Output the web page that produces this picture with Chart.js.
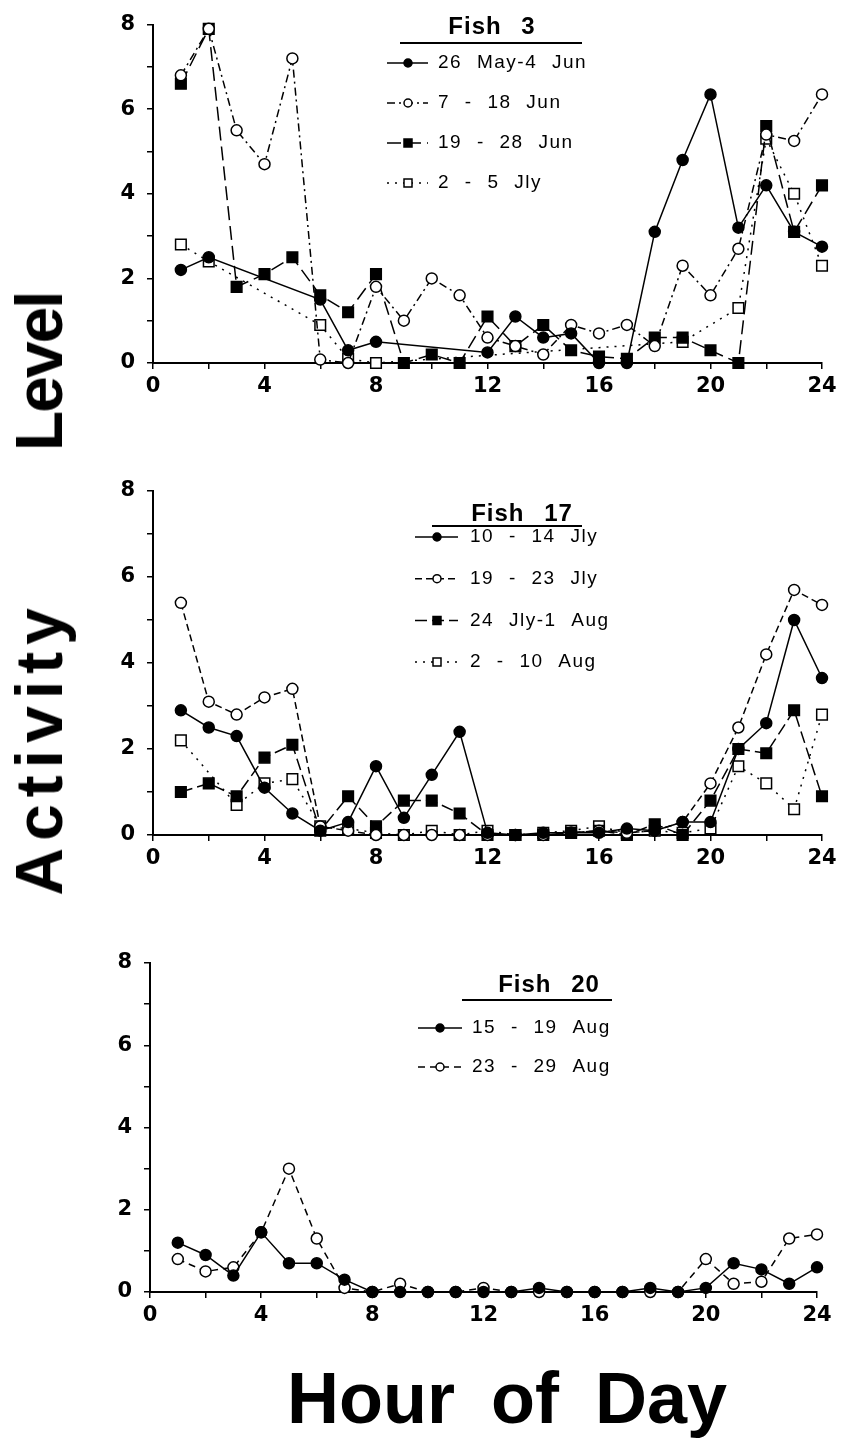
<!DOCTYPE html>
<html lang="en">
<head>
<meta charset="UTF-8">
<title>Fish activity level by hour of day</title>
<script src="https://cdn.jsdelivr.net/npm/chart.js"></script>
<style>
  body {
    margin: 0;
    background: #fff;
    width: 844px;
    height: 1440px;
    position: relative;
    overflow: hidden;
    font-family: "Liberation Sans", Arial, sans-serif;
    color: #000;
  }
  canvas { position: absolute; left: 0; }
  #fish3 { top: 0; }
  #fish17 { top: 440px; }
  #fish20 { top: 930px; }
  .ytitle {
    position: absolute;
    left: 39px;
    top: 594px;
    transform: translate(-50%, -50%) rotate(-90deg);
    white-space: nowrap;
    font-weight: bold;
    font-size: 66px;
    line-height: 66px;
  }
  .ytitle .w1 { letter-spacing: 7px; margin-right: 150px; }
  .ytitle .w2 { letter-spacing: -2px; }
  .xtitle {
    position: absolute;
    left: 287px;
    top: 1362px;
    white-space: nowrap;
    font-weight: bold;
    font-size: 72px;
    line-height: 72px;
    word-spacing: 16px;
  }
</style>
</head>
<body>
<canvas id="fish3" width="844" height="403" style="width:844px;height:403px"></canvas>
<canvas id="fish17" width="844" height="435" style="width:844px;height:435px"></canvas>
<canvas id="fish20" width="844" height="402" style="width:844px;height:402px"></canvas>
<div class="ytitle"><span class="w1">Activity</span><span class="w2">Level</span></div>
<div class="xtitle">Hour of Day</div>

<script>
// hour of day for every sample
const hours = [1, 2, 3, 4, 5, 6, 7, 8, 9, 10, 11, 12, 13, 14, 15, 16, 17, 18, 19, 20, 21, 22, 23, 24];

// Fish 3
const fish3Labels = ['26 May-4 Jun', '7 - 18 Jun', '19 - 28 Jun', '2 - 5 Jly'];
const fish3May26 = [2.2, 2.5, null, null, null, 1.5, 0.3, 0.5, null, null, null, 0.25, 1.1, 0.6, 0.7, 0, 0, 3.1, 4.8, 6.35, 3.2, 4.2, 3.1, 2.75];
const fish3Jun7 = [6.8, 7.9, 5.5, 4.7, 7.2, 0.08, 0, 1.8, 1.0, 2.0, 1.6, 0.6, 0.4, 0.2, 0.9, 0.7, 0.9, 0.4, 2.3, 1.6, 2.7, 5.4, 5.25, 6.35];
const fish3Jun19 = [6.6, 7.9, 1.8, 2.1, 2.5, 1.6, 1.2, 2.1, 0, 0.2, 0, 1.1, 0.4, 0.9, 0.3, 0.15, 0.1, 0.6, 0.6, 0.3, 0, 5.6, 3.1, 4.2];
const fish3Jly2 = [2.8, 2.4, null, null, null, 0.9, 0.1, 0, null, null, null, null, null, null, null, null, null, null, 0.5, null, 1.3, 5.3, 4.0, 2.3];

// Fish 17
const fish17Labels = ['10 - 14 Jly', '19 - 23 Jly', '24 Jly-1 Aug', '2 - 10 Aug'];
const fish17Jly10 = [2.9, 2.5, 2.3, 1.1, 0.5, 0.1, 0.3, 1.6, 0.4, 1.4, 2.4, 0.05, 0, 0.05, 0.05, 0.05, 0.15, 0.1, 0.3, 0.3, 2.0, 2.6, 5.0, 3.65];
const fish17Jly19 = [5.4, 3.1, 2.8, 3.2, 3.4, 0.2, 0.1, 0, 0, 0, 0, 0, 0, 0, 0.05, 0.1, 0.05, 0.1, 0.3, 1.2, 2.5, 4.2, 5.7, 5.35];
const fish17Jly24 = [1.0, 1.2, 0.9, 1.8, 2.1, 0.1, 0.9, 0.2, 0.8, 0.8, 0.5, 0, 0, 0, 0.05, 0.1, 0, 0.25, 0, 0.8, 2.0, 1.9, 2.9, 0.9];
const fish17Aug2 = [2.2, null, 0.7, 1.2, 1.3, 0.2, 0.15, 0.05, 0, 0.1, 0, 0.1, 0, 0.05, 0.1, 0.2, 0.05, 0.1, 0.05, 0.15, 1.6, 1.2, 0.6, 2.8];

// Fish 20
const fish20Labels = ['15 - 19 Aug', '23 - 29 Aug'];
const fish20Aug15 = [1.2, 0.9, 0.4, 1.45, 0.7, 0.7, 0.3, 0, 0, 0, 0, 0, 0, 0.1, 0, 0, 0, 0.1, 0, 0.1, 0.7, 0.55, 0.2, 0.6];
const fish20Aug23 = [0.8, 0.5, 0.6, 1.45, 3.0, 1.3, 0.1, 0, 0.2, 0, 0, 0.1, 0, 0, 0, 0, 0, 0, 0, 0.8, 0.2, 0.25, 1.3, 1.4];

const xTicks = [0, 4, 8, 12, 16, 20, 24];
const yTicks = [0, 2, 4, 6, 8];

// marker / line styles
const filledCircle = { pointStyle: 'circle', pointRadius: 5.5, pointBackgroundColor: '#000' };
const openCircle = { pointStyle: 'circle', pointRadius: 5.5, pointBackgroundColor: '#fff' };
const filledSquare = { pointStyle: 'rect', pointRadius: 7.5, pointBackgroundColor: '#000' };
const openSquare = { pointStyle: 'rect', pointRadius: 7.5, pointBackgroundColor: '#fff' };

function series(label, values, marker, dash) {
    return Object.assign({
        label: label,
        data: hours.map((h, i) => ({ x: h, y: values[i] })),
        borderColor: '#000',
        borderWidth: 1.5,
        borderDash: dash,
        pointBorderColor: '#000',
        pointBorderWidth: 1.5,
        pointHoverRadius: 6,
        spanGaps: true,
        tension: 0,
        clip: false
    }, marker);
}

// legend drawn inside the plot, with line sample + marker like the original
const fishLegend = {
    id: 'fishLegend',
    afterDatasetsDraw(chart, args, o) {
        const ctx = chart.ctx;
        ctx.save();
        ctx.fillStyle = '#000';
        ctx.strokeStyle = '#000';
        ctx.textBaseline = 'middle';

        ctx.font = 'bold 24px "Liberation Sans", Arial, sans-serif';
        ctx.textAlign = 'center';
        ctx.letterSpacing = '1px';
        ctx.wordSpacing = '12px';
        ctx.fillText(o.title, o.titleX, o.titleY);

        ctx.lineWidth = 2;
        ctx.beginPath();
        ctx.moveTo(o.ruleX0, o.ruleY);
        ctx.lineTo(o.ruleX1, o.ruleY);
        ctx.stroke();

        ctx.font = '19px "Liberation Sans", Arial, sans-serif';
        ctx.textAlign = 'left';
        ctx.letterSpacing = '1.5px';
        ctx.wordSpacing = '8px';
        chart.data.datasets.forEach((ds, i) => {
            const y = o.rowY + i * o.rowGap;
            ctx.lineWidth = 1.5;
            ctx.setLineDash(ds.borderDash || []);
            ctx.beginPath();
            ctx.moveTo(o.sampleX0, y);
            ctx.lineTo(o.sampleX1, y);
            ctx.stroke();
            ctx.setLineDash([]);

            ctx.beginPath();
            if (ds.pointStyle === 'rect') {
                ctx.rect(o.markX - 4, y - 4, 8, 8);
            } else {
                ctx.arc(o.markX, y, 4, 0, Math.PI * 2);
            }
            ctx.fillStyle = ds.pointBackgroundColor;
            ctx.fill();
            ctx.stroke();
            ctx.fillStyle = '#000';
            ctx.fillText(ds.label, o.textX, y);
        });
        ctx.restore();
    }
};

function makeChart(id, datasets, box, legend) {
    const tickFont = { family: '"DejaVu Sans", Arial, sans-serif', weight: 'bold', size: 21 };
    return new Chart(document.getElementById(id), {
        type: 'line',
        data: { datasets: datasets },
        plugins: [fishLegend],
        options: {
            responsive: false,
            animation: false,
            events: [],
            layout: { padding: { top: box.top, right: box.right, bottom: 0, left: 0 } },
            scales: {
                x: {
                    type: 'linear',
                    min: 0,
                    max: 24,
                    ticks: {
                        stepSize: 2,
                        autoSkip: false,
                        maxRotation: 0,
                        color: '#000',
                        padding: 5,
                        font: tickFont,
                        callback: v => xTicks.includes(v) ? v : ''
                    },
                    grid: { drawOnChartArea: false, tickLength: 6, color: '#000', lineWidth: 1.5 },
                    border: { color: '#000', width: 2 },
                    afterFit: s => { s.height = 40; }
                },
                y: {
                    min: 0,
                    max: 8,
                    ticks: {
                        stepSize: 1,
                        color: '#000',
                        padding: 12,
                        font: tickFont,
                        callback: v => yTicks.includes(v) ? v : ''
                    },
                    grid: { drawOnChartArea: false, tickLength: 6, color: '#000', lineWidth: 1.5 },
                    border: { color: '#000', width: 2 },
                    afterFit: s => { s.width = box.left; }
                }
            },
            plugins: {
                legend: { display: false },
                tooltip: { enabled: false },
                fishLegend: legend
            }
        }
    });
}

makeChart('fish3', [
    series(fish3Labels[0], fish3May26, filledCircle, []),
    series(fish3Labels[1], fish3Jun7, openCircle, [8, 4, 2, 4]),
    series(fish3Labels[2], fish3Jun19, filledSquare, [14, 6]),
    series(fish3Labels[3], fish3Jly2, openSquare, [2, 6])
], { top: 20, left: 153, right: 22 }, {
    title: 'Fish 3', titleX: 492, titleY: 27,
    ruleX0: 400, ruleX1: 582, ruleY: 43,
    rowY: 63, rowGap: 40,
    sampleX0: 387, sampleX1: 428, markX: 408, textX: 438
});

makeChart('fish17', [
    series(fish17Labels[0], fish17Jly10, filledCircle, []),
    series(fish17Labels[1], fish17Jly19, openCircle, [7, 4]),
    series(fish17Labels[2], fish17Jly24, filledSquare, [12, 5]),
    series(fish17Labels[3], fish17Aug2, openSquare, [2, 6])
], { top: 51, left: 153, right: 22 }, {
    title: 'Fish 17', titleX: 522, titleY: 74,
    ruleX0: 432, ruleX1: 582, ruleY: 86,
    rowY: 97, rowGap: 41.7,
    sampleX0: 415, sampleX1: 458, markX: 437, textX: 470
});

makeChart('fish20', [
    series(fish20Labels[0], fish20Aug15, filledCircle, []),
    series(fish20Labels[1], fish20Aug23, openCircle, [7, 5])
], { top: 33, left: 150, right: 27 }, {
    title: 'Fish 20', titleX: 549, titleY: 55,
    ruleX0: 462, ruleX1: 612, ruleY: 70,
    rowY: 98, rowGap: 39,
    sampleX0: 418, sampleX1: 462, markX: 440, textX: 472
});
</script>
</body>
</html>
